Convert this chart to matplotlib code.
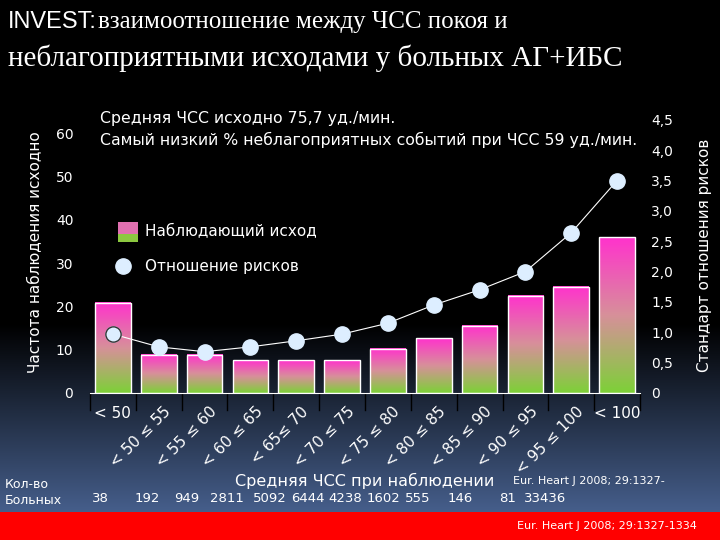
import numpy as np
import matplotlib.pyplot as plt
from matplotlib.colors import LinearSegmentedColormap
from matplotlib.patches import Rectangle

# данные
categories = ['< 50', '< 50 ≤ 55', '< 55 ≤ 60', '< 60 ≤ 65', '< 65≤ 70', '< 70 ≤ 75',
              '< 75 ≤ 80', '< 80 ≤ 85', '< 85 ≤ 90', '< 90 ≤ 95', '< 95 ≤ 100', '< 100']
outcome = [20.8, 8.8, 8.8, 7.6, 7.6, 7.6, 10.2, 12.7, 15.5, 22.4, 24.5, 36.0]
hazard = [0.97, 0.76, 0.68, 0.76, 0.86, 0.97, 1.15, 1.45, 1.70, 2.00, 2.64, 3.50]
counts = ['38', '192', '949', '2811', '5092', '6444', '4238', '1602', '555', '146', '81', '33436']
count_x = [100, 147, 187, 227, 270, 308, 345, 383, 418, 460, 508, 545]
left_ticks = [0, 10, 20, 30, 40, 50, 60]
right_ticks = [0, 0.5, 1.0, 1.5, 2.0, 2.5, 3.0, 3.5, 4.0, 4.5]

W, H = 720, 540


def px(x, y):  # пиксели -> координаты фигуры
    return x / W, 1 - y / H


fig = plt.figure(figsize=(7.2, 5.4), dpi=100)

# фон
bg = fig.add_axes([0, 0, 1, 1], zorder=-10)
bg.axis('off')
yy = np.linspace(0, 1, 540)[:, None]
t = np.clip((yy - 0.6) / 0.35, 0, 1)
img = np.zeros((540, 1, 3))
img[:, :, 0] = 70 / 255 * t
img[:, :, 1] = 95 / 255 * t
img[:, :, 2] = 140 / 255 * t
img[512:, :, :] = [1, 0, 0]
bg.imshow(img, aspect='auto', extent=[0, 1, 0, 1], origin='upper')
bg.set_xlim(0, 1)
bg.set_ylim(0, 1)

# основные оси
l, b = px(90, 393)
r, tp = px(640, 118)
ax = fig.add_axes([l, b, r - l, tp - b])
ax.set_facecolor('none')
x = np.arange(len(categories))
ax.set_xlim(-0.5, len(categories) - 0.5)
ax.set_ylim(0, 63.5)
cmap = LinearSegmentedColormap.from_list('g', ['#7ed038', '#d7909a', '#ff33cc'])
grad = np.linspace(0, 1, 100)[:, None]
w = 0.78
for xi, h in zip(x, outcome):
    ax.imshow(grad, cmap=cmap, origin='lower', aspect='auto',
              extent=[xi - w / 2, xi + w / 2, 0, h], zorder=2)
    ax.add_patch(Rectangle((xi - w / 2, 0), w, h, fill=False, ec='white', lw=1, zorder=3))
ax.set_yticks(left_ticks)
ax.tick_params(axis='y', colors='white', labelsize=10, length=0, pad=12)
ax.set_xticks([])
for s in ['top', 'right', 'left']:
    ax.spines[s].set_visible(False)
ax.spines['bottom'].set_color('white')
for xb in np.arange(-0.5, len(categories), 1):
    ax.plot([xb, xb], [0, -4], color='black', lw=1, clip_on=False)

ax2 = ax.twinx()
ax2.set_ylim(0, 63.5 * 4.33 / 60.7)
ax2.plot(x, hazard, color='white', lw=0.8, zorder=4)
ax2.plot(x, hazard, 'o', color='#ddeeff', ms=11, zorder=5, mec='#ddeeff')
ax2.plot(x[:1], hazard[:1], 'o', color='#ddeeff', ms=11, zorder=6, mec='#333333')
ax2.set_yticks(right_ticks)
ax2.set_yticklabels([('%.1f' % v).replace('.', ',') if v else '0' for v in right_ticks])
ax2.tick_params(axis='y', colors='white', labelsize=10, length=0, pad=8)
for s in ax2.spines.values():
    s.set_visible(False)

# подписи по оси x
for i, c in enumerate(categories):
    if i == 0 or i == len(categories) - 1:
        ax.text(i, -3, c, color='white', fontsize=11, ha='center', va='top')
    else:
        ax.text(i + 0.1, -2.5, c, color='white', fontsize=11, ha='right', va='top',
                rotation=45, rotation_mode='anchor')

# тексты
fig.text(*px(8, 22), 'INVEST:', color='white', fontsize=17, family='Liberation Sans', va='center')
fig.text(*px(98, 22), 'взаимоотношение между ЧСС покоя и', color='white', fontsize=18,
         family='Liberation Serif', va='center')
fig.text(*px(8, 58), 'неблагоприятными исходами у больных АГ+ИБС', color='white', fontsize=21,
         family='Liberation Serif', va='center')
fig.text(*px(100, 118), 'Средняя ЧСС исходно 75,7 уд./мин.', color='white', fontsize=11.3, va='center')
fig.text(*px(100, 140), 'Самый низкий % неблагоприятных событий при ЧСС 59 уд./мин.', color='white',
         fontsize=11.3, va='center')
fig.text(*px(35, 252), 'Частота наблюдения исходно', color='white', fontsize=11, rotation=90,
         ha='center', va='center')
fig.text(*px(704, 255), 'Стандарт отношения рисков', color='white', fontsize=11, rotation=90,
         ha='center', va='center')

# легенда
lx, ly = px(118, 222)
fig.patches.append(Rectangle((lx, ly - 20 / H), 20 / W, 20 / H, transform=fig.transFigure,
                             fc='#e070b0', ec='none'))
fig.patches.append(Rectangle((lx, ly - 20 / H), 20 / W, 8 / H, transform=fig.transFigure,
                             fc='#8cc840', ec='none'))
fig.text(*px(145, 232), 'Наблюдающий исход', color='white', fontsize=11, va='center')
mx, my = px(123, 266)
fig.add_artist(plt.Line2D([mx], [my], marker='o', ms=11, color='#ddeeff', transform=fig.transFigure))
fig.text(*px(145, 266), 'Отношение рисков', color='white', fontsize=11, va='center')

fig.text(*px(5, 493), 'Кол-во\nБольных', color='white', fontsize=9, va='center', linespacing=1.3)
fig.text(*px(365, 481), 'Средняя ЧСС при наблюдении', color='white', fontsize=11.5, ha='center',
         va='center')
fig.text(*px(513, 481), 'Eur. Heart J 2008; 29:1327-', color='white', fontsize=8, va='center')
for cx, c in zip(count_x, counts):
    fig.text(*px(cx, 498), c, color='white', fontsize=9.5, ha='center', va='center')
fig.text(*px(697, 526), 'Eur. Heart J 2008; 29:1327-1334', color='white', fontsize=8, ha='right',
         va='center')

fig.savefig('out.png', dpi=100)
